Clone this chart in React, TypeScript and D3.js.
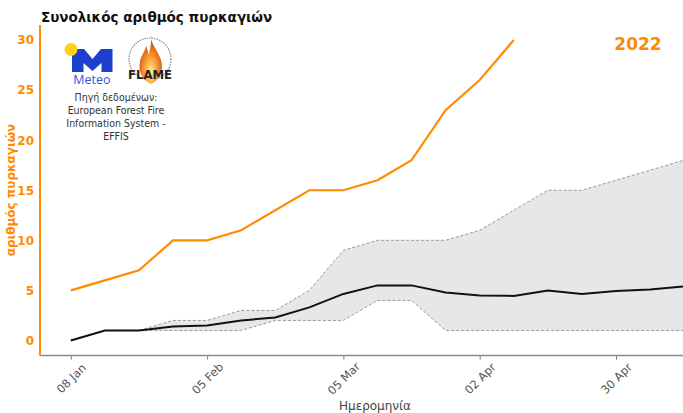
import React, { useEffect, useRef } from "react";
import * as d3 from "d3";

// weekly dates (x axis)
const weeks = [
  "2022-01-08", "2022-01-15", "2022-01-22", "2022-01-29", "2022-02-05",
  "2022-02-12", "2022-02-19", "2022-02-26", "2022-03-05", "2022-03-12",
  "2022-03-19", "2022-03-26", "2022-04-02", "2022-04-09", "2022-04-16",
  "2022-04-23", "2022-04-30", "2022-05-07", "2022-05-14",
];

// 2022 cumulative fires (only until 09 Apr)
const fires2022 = [5, 6, 7, 10, 10, 11, 13, 15, 15, 16, 18, 23, 26, 30];

// previous years: mean, min and max
const meanFires = [0, 1, 1, 1.4, 1.5, 2, 2.3, 3.3, 4.65, 5.5, 5.5, 4.8, 4.5, 4.45, 5, 4.65, 4.95, 5.1, 5.4];
const minFires = [0, 1, 1, 1, 1, 1, 2, 2, 2, 4, 4, 1, 1, 1, 1, 1, 1, 1, 1];
const maxFires = [0, 1, 1, 2, 2, 3, 3, 5, 9, 10, 10, 10, 11, 13, 15, 15, 16, 17, 18];

const yTicks = [0, 5, 10, 15, 20, 25, 30];
const xTicks = ["2022-01-08", "2022-02-05", "2022-03-05", "2022-04-02", "2022-04-30"];

const sourceLines = ["Πηγή δεδομένων:", "European Forest Fire", "Information System -", "EFFIS"];

const ORANGE = "#ff8c00";
const FONT = "DejaVu Sans, sans-serif";

export default function App() {
  const ref = useRef<SVGSVGElement>(null);

  useEffect(() => {
    const svg = d3.select(ref.current);
    svg.selectAll("*").remove();

    const width = 683;
    const height = 413;
    const plot = { left: 40, top: 25, bottom: 355.5, right: 683 };
    const parse = d3.utcParse("%Y-%m-%d");
    const dates = weeks.map(d => parse(d) as Date);

    // scales
    const xScale = d3.scaleUtc()
      .domain([parse("2022-01-08") as Date, parse("2022-04-30") as Date])
      .range([70.8, 616]);

    const yScale = d3.scaleLinear()
      .domain([-1.5, 31.5])
      .range([plot.bottom, plot.top]);

    const defs = svg.append("defs");
    defs.append("clipPath").attr("id", "plotclip")
      .append("rect")
      .attr("x", plot.left).attr("y", plot.top)
      .attr("width", width - plot.left).attr("height", plot.bottom - plot.top);

    const g = svg.append("g").attr("clip-path", "url(#plotclip)");

    // min-max band
    const band = d3.area<number>()
      .x((_, i) => xScale(dates[i]))
      .y0((_, i) => yScale(minFires[i]))
      .y1(d => yScale(d));

    g.append("path")
      .datum(maxFires)
      .attr("d", band)
      .attr("fill", "#e7e7e7");

    const line = d3.line<number>()
      .x((_, i) => xScale(dates[i]))
      .y(d => yScale(d));

    [minFires, maxFires].forEach(arr => {
      g.append("path")
        .datum(arr)
        .attr("d", line)
        .attr("fill", "none")
        .attr("stroke", "#9a9a9a")
        .attr("stroke-width", 1)
        .attr("stroke-dasharray", "3,2");
    });

    // mean line
    g.append("path")
      .datum(meanFires)
      .attr("d", line)
      .attr("fill", "none")
      .attr("stroke", "#111")
      .attr("stroke-width", 2);

    // 2022 line
    g.append("path")
      .datum(fires2022)
      .attr("d", line)
      .attr("fill", "none")
      .attr("stroke", ORANGE)
      .attr("stroke-width", 2.2);

    // axis
    const xAxis = d3.axisBottom(xScale)
      .tickValues(xTicks.map(d => parse(d) as Date))
      .tickFormat(d => d3.utcFormat("%d %b")(d as Date))
      .tickSize(4)
      .tickPadding(4);

    const gx = svg.append("g")
      .attr("transform", `translate(0,${plot.bottom})`)
      .call(xAxis);
    gx.select(".domain").remove();
    gx.selectAll(".tick line").attr("stroke", "#777");
    // labels rotated around their centre, as matplotlib does with ha=center
    gx.selectAll(".tick text")
      .attr("font-family", FONT)
      .attr("font-size", 11.5)
      .attr("fill", "#555")
      .attr("text-anchor", "middle")
      .attr("y", 0)
      .attr("dy", "0.35em")
      .attr("transform", "translate(0,23) rotate(-45)");

    svg.append("line")
      .attr("x1", plot.left).attr("x2", plot.right)
      .attr("y1", plot.bottom).attr("y2", plot.bottom)
      .attr("stroke", "#8a8a8a")
      .attr("stroke-width", 1.5);

    const yAxis = d3.axisLeft(yScale)
      .tickValues(yTicks)
      .tickSize(0)
      .tickPadding(6);

    const gy = svg.append("g")
      .attr("transform", `translate(${plot.left},0)`)
      .call(yAxis);
    gy.select(".domain").remove();
    gy.selectAll(".tick text")
      .attr("font-family", FONT)
      .attr("font-size", 12)
      .attr("font-weight", "bold")
      .attr("fill", ORANGE);

    svg.append("line")
      .attr("x1", plot.left).attr("x2", plot.left)
      .attr("y1", plot.top).attr("y2", plot.bottom)
      .attr("stroke", ORANGE)
      .attr("stroke-width", 2);

    // labels and title
    svg.append("text")
      .attr("x", 375)
      .attr("y", 410)
      .attr("text-anchor", "middle")
      .attr("font-family", FONT)
      .attr("font-size", 12)
      .attr("fill", "#444")
      .text("Ημερομηνία");

    svg.append("text")
      .attr("transform", "translate(15,190) rotate(-90)")
      .attr("text-anchor", "middle")
      .attr("font-family", FONT)
      .attr("font-size", 12)
      .attr("font-weight", "bold")
      .attr("fill", ORANGE)
      .text("αριθμός πυρκαγιών");

    svg.append("text")
      .attr("x", 41)
      .attr("y", 22)
      .attr("font-family", FONT)
      .attr("font-size", 13.5)
      .attr("font-weight", "bold")
      .attr("fill", "#111")
      .text("Συνολικός αριθμός πυρκαγιών");

    svg.append("text")
      .attr("x", 638)
      .attr("y", 49.5)
      .attr("text-anchor", "middle")
      .attr("font-family", FONT)
      .attr("font-size", 17)
      .attr("font-weight", "bold")
      .attr("fill", ORANGE)
      .text("2022");

    // Meteo logo
    svg.append("path")
      .attr("d", "M72,72 L72,49 L84,49 L92.5,59 L101,49 L112.5,49 L112.5,72 L101.5,72 L101.5,63 L92.5,71 L83.5,63 L83.5,72 Z")
      .attr("fill", "#1b3fcf");
    svg.append("circle")
      .attr("cx", 71).attr("cy", 49.5).attr("r", 6.5)
      .attr("fill", "#ffd21a");
    svg.append("text")
      .attr("x", 92)
      .attr("y", 84)
      .attr("text-anchor", "middle")
      .attr("font-family", "Open Sans, sans-serif")
      .attr("font-size", 12.5)
      .attr("fill", "#2f56d8")
      .text("Meteo");

    // FLAME logo
    const grad = defs.append("radialGradient")
      .attr("id", "flamegrad")
      .attr("cx", "50%").attr("cy", "75%").attr("r", "60%");
    grad.append("stop").attr("offset", "0%").attr("stop-color", "#fff2b0");
    grad.append("stop").attr("offset", "35%").attr("stop-color", "#ffb347");
    grad.append("stop").attr("offset", "75%").attr("stop-color", "#e8721c");
    grad.append("stop").attr("offset", "100%").attr("stop-color", "#b0501a");

    svg.append("circle")
      .attr("cx", 150).attr("cy", 59).attr("r", 21)
      .attr("fill", "none")
      .attr("stroke", "#8a8a8a")
      .attr("stroke-width", 1.2)
      .attr("stroke-dasharray", "1.5,1");
    svg.append("path")
      .attr("d", "M151,34 C150,44 158,50 161,60 C164,70 160,80 151,84 C142,80 138,71 140,62 C141,55 145,52 146,46 C148,50 148,53 149,55 C150,48 152,42 151,34 Z")
      .attr("fill", "url(#flamegrad)");
    svg.append("text")
      .attr("x", 128)
      .attr("y", 79)
      .attr("textLength", 44)
      .attr("lengthAdjust", "spacingAndGlyphs")
      .attr("font-family", FONT)
      .attr("font-size", 13)
      .attr("font-weight", "bold")
      .attr("fill", "#222")
      .text("FLAME");

    // data source text
    svg.append("g").selectAll("text")
      .data(sourceLines)
      .enter()
      .append("text")
      .attr("x", 116)
      .attr("y", (_, i) => 100.5 + i * 13.3)
      .attr("text-anchor", "middle")
      .attr("font-family", "DejaVu Sans Condensed, DejaVu Sans, sans-serif")
      .attr("font-size", 10.5)
      .attr("fill", "#333")
      .text(d => d);

    svg.attr("width", width).attr("height", height);
  }, []);

  return (
    <svg ref={ref} width={683} height={413}
      style={{ position: "absolute", left: 0, top: 0, background: "#fff" }} />
  );
}
